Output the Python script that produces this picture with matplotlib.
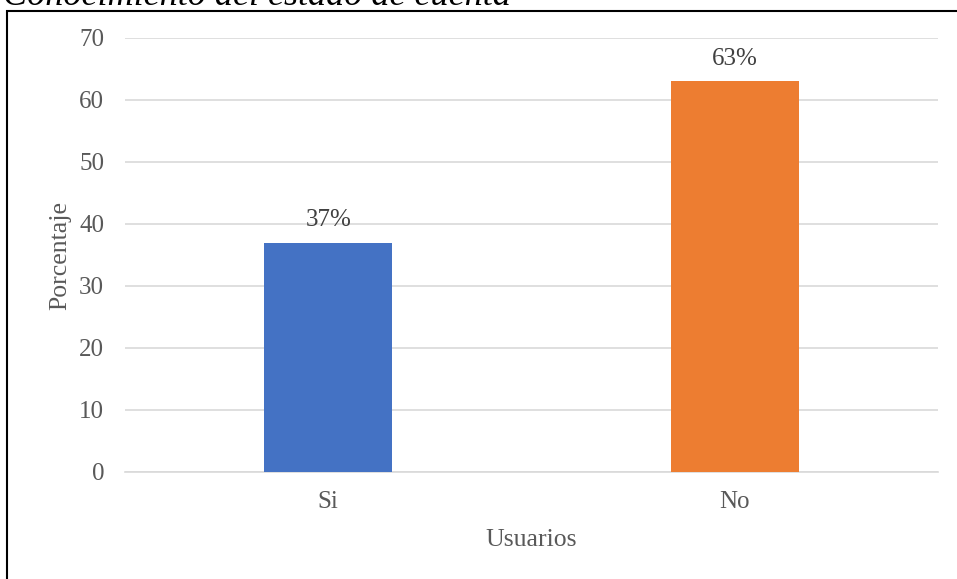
import matplotlib.pyplot as plt
from matplotlib.patches import Rectangle

plt.rcParams['font.family'] = ['Liberation Serif', 'DejaVu Serif']

categorias = ['Si', 'No']
porcentajes = [37, 63]
etiquetas = ['37%', '63%']
colores = ['#4472C4', '#ED7D31']

fig = plt.figure(figsize=(9.57, 5.79), dpi=100)

# marco del grafico
fig.patches.append(Rectangle((7.5 / 957, -0.05), 1.0, 1 - 10.5 / 579 + 0.05,
                             transform=fig.transFigure, fill=False,
                             edgecolor='black', linewidth=1.5))

fig.text(0.003, 1 - 5 / 579, 'Conocimiento del estado de cuenta', fontsize=26,
         style='italic', va='baseline', ha='left', color='black')

ax = fig.add_axes([125 / 957, 1 - 472 / 579, (938 - 125) / 957, (472 - 38) / 579])

x = range(len(categorias))
barras = ax.bar(x, porcentajes, width=0.315, color=colores, zorder=3)
for b, et in zip(barras, etiquetas):
    ax.annotate(et, (b.get_x() + b.get_width() / 2, b.get_height()),
                xytext=(0, 8), textcoords='offset points', ha='center',
                va='bottom', fontsize=18, color='#404040')

ax.set_xlim(-0.5, 1.5)
ax.set_ylim(0, 70)
ax.set_yticks(range(0, 71, 10))
ax.set_xticks(list(x))
ax.set_xticklabels(categorias)
ax.grid(axis='y', color='#D9D9D9', linewidth=1.2, zorder=0)
for s in ['top', 'right', 'left']:
    ax.spines[s].set_visible(False)
ax.spines['bottom'].set_color('#D9D9D9')
ax.spines['bottom'].set_linewidth(1.2)
ax.tick_params(axis='both', length=0, labelsize=18, colors='#595959')
ax.tick_params(axis='y', pad=15)
ax.tick_params(axis='x', pad=14)
ax.set_ylabel('Porcentaje', fontsize=18.5, color='#595959', labelpad=6)
ax.set_xlabel('Usuarios', fontsize=18.5, color='#595959', labelpad=11)

fig.savefig('out.png', dpi=100)
